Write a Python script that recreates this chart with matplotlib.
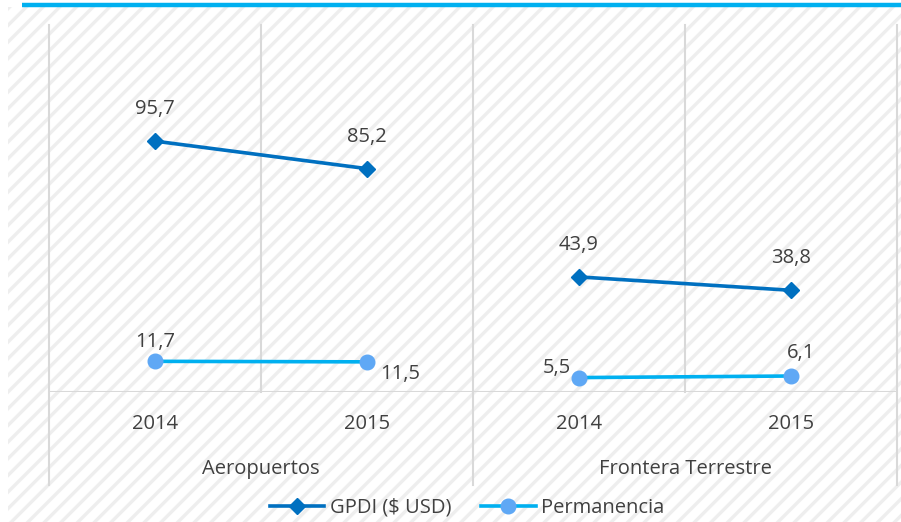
import matplotlib
matplotlib.use("Agg")
import matplotlib.pyplot as plt
from matplotlib.patches import Rectangle
from matplotlib.lines import Line2D

# Datos
grupos = ['Aeropuertos', 'Frontera Terrestre']
anios = ['2014', '2015', '2014', '2015']
gpdi = [95.7, 85.2, 43.9, 38.8]
permanencia = [11.7, 11.5, 5.5, 6.1]

# Colores
c_gpdi = '#0070C0'
c_perm_linea = '#00B0F0'
c_perm_marca = '#5FA8F5'
c_texto = '#404040'
c_rejilla = '#D9D9D9'

plt.rcParams['font.family'] = ['Open Sans', 'DejaVu Sans']
plt.rcParams['hatch.linewidth'] = 2.4
plt.rcParams['hatch.color'] = '#EEEEEE'

W, H = 901, 522
fig = plt.figure(figsize=(W / 100, H / 100), dpi=100)
fig.patch.set_facecolor('white')

# Fondo rayado
fondo = Rectangle((8 / W, 0), 1 - 8 / W, (H - 7) / H, transform=fig.transFigure,
                  facecolor='white', edgecolor='#EEEEEE', hatch='//', linewidth=0,
                  zorder=-2)
fig.patches.append(fondo)

# Linea azul superior
fig.add_artist(Line2D([22 / W, 1], [(H - 5) / H, (H - 5) / H], transform=fig.transFigure,
                      color=c_perm_linea, linewidth=3.2, solid_capstyle='butt'))

ax_left, ax_right, ax_bottom, ax_top = 49, 897, 392, 25
ax = fig.add_axes([ax_left / W, (H - ax_bottom) / H,
                   (ax_right - ax_left) / W, (ax_bottom - ax_top) / H])
ax.set_facecolor('none')
alto = ax_bottom - ax_top

x = list(range(len(anios)))
ax.set_xlim(-0.5, len(anios) - 0.5)
ax.set_ylim(0, 140)

# Lineas verticales
for i, xv in enumerate([-0.5, 0.5, 1.5, 2.5, 3.5]):
    abajo = -(485 - ax_bottom) / alto if i % 2 == 0 else 0
    ax.axvline(xv, ymin=abajo, ymax=1, color=c_rejilla, linewidth=1.5,
               clip_on=False, zorder=1)
ax.axhline(0, color=c_rejilla, linewidth=1.5, zorder=1)

for s in ax.spines.values():
    s.set_visible(False)
ax.set_xticks([])
ax.set_yticks([])

# Series (cada grupo por separado)
for g in range(2):
    idx = [2 * g, 2 * g + 1]
    ax.plot(idx, [gpdi[i] for i in idx], color=c_gpdi, linewidth=2.6,
            marker='D', markersize=8.5, zorder=3, clip_on=False)
    ax.plot(idx, [permanencia[i] for i in idx], color=c_perm_linea, linewidth=2.6,
            marker='o', markersize=10.5, markerfacecolor=c_perm_marca,
            markeredgecolor=c_perm_marca, zorder=3, clip_on=False)

fmt = lambda v: f'{v:.1f}'.replace('.', ',')
fs = 14.5

for i, v in enumerate(gpdi):
    ax.annotate(fmt(v), (x[i], v), xytext=(0, 32), textcoords='offset pixels',
                ha='center', va='center', fontsize=fs, color=c_texto)

offsets = [((0, 19), 'center'), ((33, -12), 'center'),
           ((-8, 10), 'right'), ((10, 23), 'center')]
for i, v in enumerate(permanencia):
    (dx, dy), ha = offsets[i]
    ax.annotate(fmt(v), (x[i], v), xytext=(dx, dy), textcoords='offset pixels',
                ha=ha, va='center', fontsize=fs, color=c_texto)

# Etiquetas del eje
tr = ax.get_xaxis_transform()
for i, a in enumerate(anios):
    ax.text(x[i], -(424 - ax_bottom) / alto, a, transform=tr, ha='center',
            va='center', fontsize=fs, color=c_texto)
for g, nombre in enumerate(grupos):
    ax.text(2 * g + 0.5, -(469 - ax_bottom) / alto, nombre, transform=tr,
            ha='center', va='center', fontsize=fs, color=c_texto)

# Leyenda
h1 = Line2D([], [], color=c_gpdi, linewidth=2.6, marker='D', markersize=8.5)
h2 = Line2D([], [], color=c_perm_linea, linewidth=2.6, marker='o', markersize=10.5,
            markerfacecolor=c_perm_marca, markeredgecolor=c_perm_marca)
fig.legend([h1, h2], ['GPDI ($ USD)', 'Permanencia'], loc='center',
           bbox_to_anchor=(467 / W, 14 / H), ncol=2, frameon=False,
           fontsize=fs, labelcolor=c_texto, handlelength=2.7,
           handletextpad=0.25, columnspacing=1.5)

fig.savefig('out.png', dpi=100)
